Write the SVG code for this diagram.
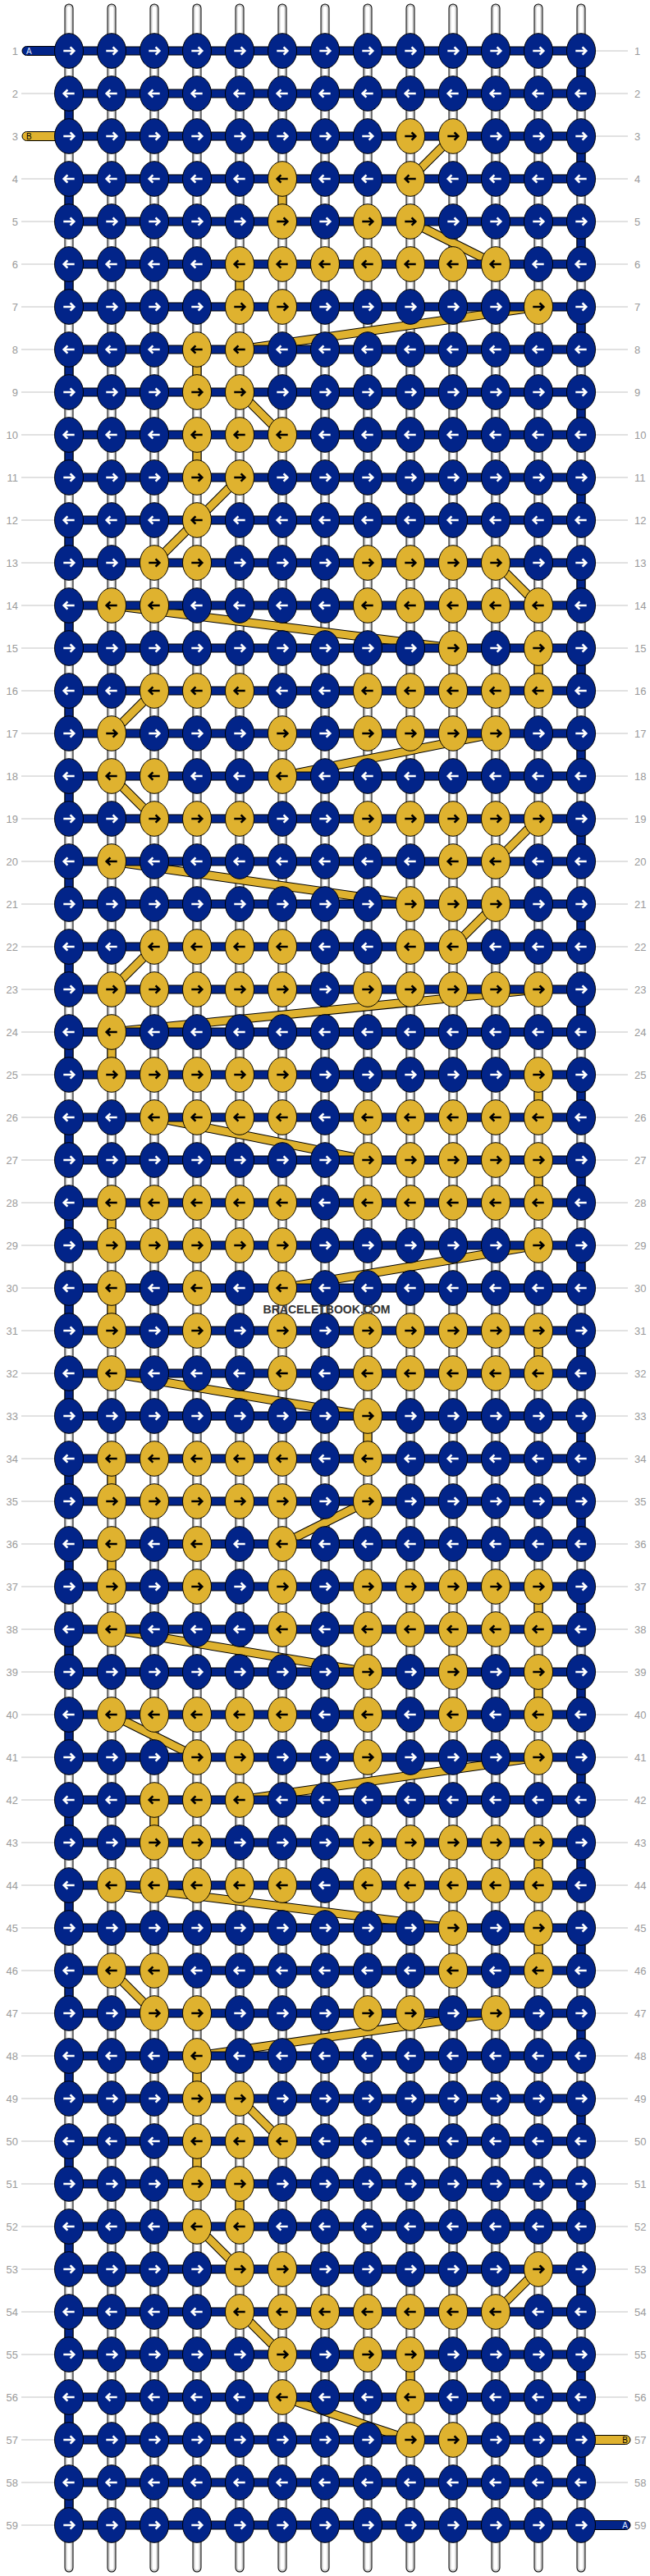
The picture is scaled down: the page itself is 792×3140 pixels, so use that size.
<svg xmlns="http://www.w3.org/2000/svg" width="792" height="3140" viewBox="0 0 792 3140">
<style>
.kb{fill:#022489;stroke:#000;stroke-width:1}
.ky{fill:#dfb22f;stroke:#000;stroke-width:1}
.aw{fill:none;stroke:#fff;stroke-width:2.6}
.ak{fill:none;stroke:#000;stroke-width:2.6}
.lb{font-family:"Liberation Sans",Arial,sans-serif;font-size:13px;fill:#9a9a9a}
.ln{fill:none;stroke:#c4c4c4;stroke-width:1}
.s1{fill:none;stroke:#000;stroke-width:11;stroke-linecap:round}
.s2{fill:none;stroke:#c8c8c8;stroke-width:9;stroke-linecap:round}
.s3{fill:none;stroke:#fff;stroke-width:5;stroke-linecap:round}
.o{fill:none;stroke:#000;stroke-width:11}
.bl{fill:none;stroke:#022489;stroke-width:9}
.yl{fill:none;stroke:#dfb22f;stroke-width:9}
.pl{font-family:"Liberation Sans",Arial,sans-serif;font-size:10px}
</style>
<defs>
<g id="a"><ellipse rx="17.5" ry="21.3" class="kb"/><path d="M-6.7 0H5.8M1.6-4.7L6.3 0L1.6 4.7" class="aw"/></g>
<g id="b"><ellipse rx="17.5" ry="21.3" class="kb"/><path d="M6.7 0H-5.8M-1.6-4.7L-6.3 0L-1.6 4.7" class="aw"/></g>
<g id="c"><ellipse rx="17.5" ry="21.3" class="ky"/><path d="M-6.7 0H5.8M1.6-4.7L6.3 0L1.6 4.7" class="ak"/></g>
<g id="d"><ellipse rx="17.5" ry="21.3" class="ky"/><path d="M6.7 0H-5.8M-1.6-4.7L-6.3 0L-1.6 4.7" class="ak"/></g>
</defs>
<rect width="792" height="3140" fill="#fff"/>
<g id="strings">
<path class="s1" d="M84 10V3130M136 10V3130M188 10V3130M240 10V3130M292 10V3130M344 10V3130M396 10V3130M448 10V3130M500 10V3130M552 10V3130M604 10V3130M656 10V3130M708 10V3130"/>
<path class="s2" d="M84 10V3130M136 10V3130M188 10V3130M240 10V3130M292 10V3130M344 10V3130M396 10V3130M448 10V3130M500 10V3130M552 10V3130M604 10V3130M656 10V3130M708 10V3130"/>
<path class="s3" d="M84 10V3130M136 10V3130M188 10V3130M240 10V3130M292 10V3130M344 10V3130M396 10V3130M448 10V3130M500 10V3130M552 10V3130M604 10V3130M656 10V3130M708 10V3130"/>
</g>
<g id="connectors">
<path id="yellowPath" class="o" d="M552 166L500 218M344 218V270M500 270L604 322M292 322V374M656 374L292 426M240 426V478M292 478L344 530M240 530V582M292 582L240 634M240 634L188 686M604 686L656 738M136 738L552 790M656 790V842M188 842L136 894M604 894L344 946M136 946L188 998M656 998L604 1050M136 1050L500 1102M604 1102L552 1154M188 1154L136 1206M656 1206L136 1258M136 1258V1310M656 1310V1362M188 1362L448 1414M656 1414V1466M136 1466V1518M656 1518L344 1570M136 1570V1622M656 1622V1674M136 1674L448 1726M448 1726V1778M136 1778V1830M448 1830L344 1882M136 1882V1934M656 1934V1986M136 1986L448 2038M656 2038V2090M136 2090L240 2142M656 2142L292 2194M188 2194V2246M656 2246V2298M136 2298L552 2350M656 2350V2402M136 2402L188 2454M604 2454L240 2506M240 2506V2558M292 2558L344 2610M240 2610V2662M292 2662V2714M240 2714L292 2766M656 2766L604 2818M292 2818L344 2870M500 2870V2922M344 2922L500 2974"/>
<path class="yl" d="M552 166L500 218M344 218V270M500 270L604 322M292 322V374M656 374L292 426M240 426V478M292 478L344 530M240 530V582M292 582L240 634M240 634L188 686M604 686L656 738M136 738L552 790M656 790V842M188 842L136 894M604 894L344 946M136 946L188 998M656 998L604 1050M136 1050L500 1102M604 1102L552 1154M188 1154L136 1206M656 1206L136 1258M136 1258V1310M656 1310V1362M188 1362L448 1414M656 1414V1466M136 1466V1518M656 1518L344 1570M136 1570V1622M656 1622V1674M136 1674L448 1726M448 1726V1778M136 1778V1830M448 1830L344 1882M136 1882V1934M656 1934V1986M136 1986L448 2038M656 2038V2090M136 2090L240 2142M656 2142L292 2194M188 2194V2246M656 2246V2298M136 2298L552 2350M656 2350V2402M136 2402L188 2454M604 2454L240 2506M240 2506V2558M292 2558L344 2610M240 2610V2662M292 2662V2714M240 2714L292 2766M656 2766L604 2818M292 2818L344 2870M500 2870V2922M344 2922L500 2974"/>
<path class="o" stroke-dasharray="52 52" d="M84 114V3078"/>
<path class="bl" stroke-dasharray="52 52" d="M84 114V3078"/>
<path class="o" stroke-dasharray="52 52" d="M708 62V3026"/>
<path class="bl" stroke-dasharray="52 52" d="M708 62V3026"/>
<path class="o" d="M84 62H708M84 114H708M84 166H708M84 218H708M84 270H708M84 322H708M84 374H708M84 426H708M84 478H708M84 530H708M84 582H708M84 634H708M84 686H708M84 738H708M84 790H708M84 842H708M84 894H708M84 946H708M84 998H708M84 1050H708M84 1102H708M84 1154H708M84 1206H708M84 1258H708M84 1310H708M84 1362H708M84 1414H708M84 1466H708M84 1518H708M84 1570H708M84 1622H708M84 1674H708M84 1726H708M84 1778H708M84 1830H708M84 1882H708M84 1934H708M84 1986H708M84 2038H708M84 2090H708M84 2142H708M84 2194H708M84 2246H708M84 2298H708M84 2350H708M84 2402H708M84 2454H708M84 2506H708M84 2558H708M84 2610H708M84 2662H708M84 2714H708M84 2766H708M84 2818H708M84 2870H708M84 2922H708M84 2974H708M84 3026H708M84 3078H708"/>
<path class="bl" d="M84 62H708M84 114H708M84 166H708M84 218H708M84 270H708M84 322H708M84 374H708M84 426H708M84 478H708M84 530H708M84 582H708M84 634H708M84 686H708M84 738H708M84 790H708M84 842H708M84 894H708M84 946H708M84 998H708M84 1050H708M84 1102H708M84 1154H708M84 1206H708M84 1258H708M84 1310H708M84 1362H708M84 1414H708M84 1466H708M84 1518H708M84 1570H708M84 1622H708M84 1674H708M84 1726H708M84 1778H708M84 1830H708M84 1882H708M84 1934H708M84 1986H708M84 2038H708M84 2090H708M84 2142H708M84 2194H708M84 2246H708M84 2298H708M84 2350H708M84 2402H708M84 2454H708M84 2506H708M84 2558H708M84 2610H708M84 2662H708M84 2714H708M84 2766H708M84 2818H708M84 2870H708M84 2922H708M84 2974H708M84 3026H708M84 3078H708"/>
</g>
<g id="ends">
<rect x="27" y="56.5" width="53" height="11" rx="5.5" class="kb"/>
<text x="32" y="66" class="pl" fill="#dfe6ff">A</text>
<rect x="27" y="160.5" width="53" height="11" rx="5.5" class="ky"/>
<text x="32" y="170" class="pl" fill="#000">B</text>
<rect x="712" y="2968.5" width="56" height="11" rx="5.5" class="ky"/>
<text x="765" y="2978" class="pl" fill="#000" text-anchor="end">B</text>
<rect x="712" y="3072.5" width="56" height="11" rx="5.5" class="kb"/>
<text x="765" y="3082" class="pl" fill="#dfe6ff" text-anchor="end">A</text>
</g>
<g id="knots">
<g transform="translate(0,62)"><g id="k1-0"><use href="#a" x="84"/></g><g id="k1-1"><use href="#a" x="136"/></g><g id="k1-2"><use href="#a" x="188"/></g><g id="k1-3"><use href="#a" x="240"/></g><g id="k1-4"><use href="#a" x="292"/></g><g id="k1-5"><use href="#a" x="344"/></g><g id="k1-6"><use href="#a" x="396"/></g><g id="k1-7"><use href="#a" x="448"/></g><g id="k1-8"><use href="#a" x="500"/></g><g id="k1-9"><use href="#a" x="552"/></g><g id="k1-10"><use href="#a" x="604"/></g><g id="k1-11"><use href="#a" x="656"/></g><g id="k1-12"><use href="#a" x="708"/></g></g>
<g transform="translate(0,114)"><g id="k2-0"><use href="#b" x="84"/></g><g id="k2-1"><use href="#b" x="136"/></g><g id="k2-2"><use href="#b" x="188"/></g><g id="k2-3"><use href="#b" x="240"/></g><g id="k2-4"><use href="#b" x="292"/></g><g id="k2-5"><use href="#b" x="344"/></g><g id="k2-6"><use href="#b" x="396"/></g><g id="k2-7"><use href="#b" x="448"/></g><g id="k2-8"><use href="#b" x="500"/></g><g id="k2-9"><use href="#b" x="552"/></g><g id="k2-10"><use href="#b" x="604"/></g><g id="k2-11"><use href="#b" x="656"/></g><g id="k2-12"><use href="#b" x="708"/></g></g>
<g transform="translate(0,166)"><g id="k3-0"><use href="#a" x="84"/></g><g id="k3-1"><use href="#a" x="136"/></g><g id="k3-2"><use href="#a" x="188"/></g><g id="k3-3"><use href="#a" x="240"/></g><g id="k3-4"><use href="#a" x="292"/></g><g id="k3-5"><use href="#a" x="344"/></g><g id="k3-6"><use href="#a" x="396"/></g><g id="k3-7"><use href="#a" x="448"/></g><g id="k3-8"><use href="#c" x="500"/></g><g id="k3-9"><use href="#c" x="552"/></g><g id="k3-10"><use href="#a" x="604"/></g><g id="k3-11"><use href="#a" x="656"/></g><g id="k3-12"><use href="#a" x="708"/></g></g>
<g transform="translate(0,218)"><g id="k4-0"><use href="#b" x="84"/></g><g id="k4-1"><use href="#b" x="136"/></g><g id="k4-2"><use href="#b" x="188"/></g><g id="k4-3"><use href="#b" x="240"/></g><g id="k4-4"><use href="#b" x="292"/></g><g id="k4-5"><use href="#d" x="344"/></g><g id="k4-6"><use href="#b" x="396"/></g><g id="k4-7"><use href="#b" x="448"/></g><g id="k4-8"><use href="#d" x="500"/></g><g id="k4-9"><use href="#b" x="552"/></g><g id="k4-10"><use href="#b" x="604"/></g><g id="k4-11"><use href="#b" x="656"/></g><g id="k4-12"><use href="#b" x="708"/></g></g>
<g transform="translate(0,270)"><g id="k5-0"><use href="#a" x="84"/></g><g id="k5-1"><use href="#a" x="136"/></g><g id="k5-2"><use href="#a" x="188"/></g><g id="k5-3"><use href="#a" x="240"/></g><g id="k5-4"><use href="#a" x="292"/></g><g id="k5-5"><use href="#c" x="344"/></g><g id="k5-6"><use href="#a" x="396"/></g><g id="k5-7"><use href="#c" x="448"/></g><g id="k5-8"><use href="#c" x="500"/></g><g id="k5-9"><use href="#a" x="552"/></g><g id="k5-10"><use href="#a" x="604"/></g><g id="k5-11"><use href="#a" x="656"/></g><g id="k5-12"><use href="#a" x="708"/></g></g>
<g transform="translate(0,322)"><g id="k6-0"><use href="#b" x="84"/></g><g id="k6-1"><use href="#b" x="136"/></g><g id="k6-2"><use href="#b" x="188"/></g><g id="k6-3"><use href="#b" x="240"/></g><g id="k6-4"><use href="#d" x="292"/></g><g id="k6-5"><use href="#d" x="344"/></g><g id="k6-6"><use href="#d" x="396"/></g><g id="k6-7"><use href="#d" x="448"/></g><g id="k6-8"><use href="#d" x="500"/></g><g id="k6-9"><use href="#d" x="552"/></g><g id="k6-10"><use href="#d" x="604"/></g><g id="k6-11"><use href="#b" x="656"/></g><g id="k6-12"><use href="#b" x="708"/></g></g>
<g transform="translate(0,374)"><g id="k7-0"><use href="#a" x="84"/></g><g id="k7-1"><use href="#a" x="136"/></g><g id="k7-2"><use href="#a" x="188"/></g><g id="k7-3"><use href="#a" x="240"/></g><g id="k7-4"><use href="#c" x="292"/></g><g id="k7-5"><use href="#c" x="344"/></g><g id="k7-6"><use href="#a" x="396"/></g><g id="k7-7"><use href="#a" x="448"/></g><g id="k7-8"><use href="#a" x="500"/></g><g id="k7-9"><use href="#a" x="552"/></g><g id="k7-10"><use href="#a" x="604"/></g><g id="k7-11"><use href="#c" x="656"/></g><g id="k7-12"><use href="#a" x="708"/></g></g>
<g transform="translate(0,426)"><g id="k8-0"><use href="#b" x="84"/></g><g id="k8-1"><use href="#b" x="136"/></g><g id="k8-2"><use href="#b" x="188"/></g><g id="k8-3"><use href="#d" x="240"/></g><g id="k8-4"><use href="#d" x="292"/></g><g id="k8-5"><use href="#b" x="344"/></g><g id="k8-6"><use href="#b" x="396"/></g><g id="k8-7"><use href="#b" x="448"/></g><g id="k8-8"><use href="#b" x="500"/></g><g id="k8-9"><use href="#b" x="552"/></g><g id="k8-10"><use href="#b" x="604"/></g><g id="k8-11"><use href="#b" x="656"/></g><g id="k8-12"><use href="#b" x="708"/></g></g>
<g transform="translate(0,478)"><g id="k9-0"><use href="#a" x="84"/></g><g id="k9-1"><use href="#a" x="136"/></g><g id="k9-2"><use href="#a" x="188"/></g><g id="k9-3"><use href="#c" x="240"/></g><g id="k9-4"><use href="#c" x="292"/></g><g id="k9-5"><use href="#a" x="344"/></g><g id="k9-6"><use href="#a" x="396"/></g><g id="k9-7"><use href="#a" x="448"/></g><g id="k9-8"><use href="#a" x="500"/></g><g id="k9-9"><use href="#a" x="552"/></g><g id="k9-10"><use href="#a" x="604"/></g><g id="k9-11"><use href="#a" x="656"/></g><g id="k9-12"><use href="#a" x="708"/></g></g>
<g transform="translate(0,530)"><g id="k10-0"><use href="#b" x="84"/></g><g id="k10-1"><use href="#b" x="136"/></g><g id="k10-2"><use href="#b" x="188"/></g><g id="k10-3"><use href="#d" x="240"/></g><g id="k10-4"><use href="#d" x="292"/></g><g id="k10-5"><use href="#d" x="344"/></g><g id="k10-6"><use href="#b" x="396"/></g><g id="k10-7"><use href="#b" x="448"/></g><g id="k10-8"><use href="#b" x="500"/></g><g id="k10-9"><use href="#b" x="552"/></g><g id="k10-10"><use href="#b" x="604"/></g><g id="k10-11"><use href="#b" x="656"/></g><g id="k10-12"><use href="#b" x="708"/></g></g>
<g transform="translate(0,582)"><g id="k11-0"><use href="#a" x="84"/></g><g id="k11-1"><use href="#a" x="136"/></g><g id="k11-2"><use href="#a" x="188"/></g><g id="k11-3"><use href="#c" x="240"/></g><g id="k11-4"><use href="#c" x="292"/></g><g id="k11-5"><use href="#a" x="344"/></g><g id="k11-6"><use href="#a" x="396"/></g><g id="k11-7"><use href="#a" x="448"/></g><g id="k11-8"><use href="#a" x="500"/></g><g id="k11-9"><use href="#a" x="552"/></g><g id="k11-10"><use href="#a" x="604"/></g><g id="k11-11"><use href="#a" x="656"/></g><g id="k11-12"><use href="#a" x="708"/></g></g>
<g transform="translate(0,634)"><g id="k12-0"><use href="#b" x="84"/></g><g id="k12-1"><use href="#b" x="136"/></g><g id="k12-2"><use href="#b" x="188"/></g><g id="k12-3"><use href="#d" x="240"/></g><g id="k12-4"><use href="#b" x="292"/></g><g id="k12-5"><use href="#b" x="344"/></g><g id="k12-6"><use href="#b" x="396"/></g><g id="k12-7"><use href="#b" x="448"/></g><g id="k12-8"><use href="#b" x="500"/></g><g id="k12-9"><use href="#b" x="552"/></g><g id="k12-10"><use href="#b" x="604"/></g><g id="k12-11"><use href="#b" x="656"/></g><g id="k12-12"><use href="#b" x="708"/></g></g>
<g transform="translate(0,686)"><g id="k13-0"><use href="#a" x="84"/></g><g id="k13-1"><use href="#a" x="136"/></g><g id="k13-2"><use href="#c" x="188"/></g><g id="k13-3"><use href="#c" x="240"/></g><g id="k13-4"><use href="#a" x="292"/></g><g id="k13-5"><use href="#a" x="344"/></g><g id="k13-6"><use href="#a" x="396"/></g><g id="k13-7"><use href="#c" x="448"/></g><g id="k13-8"><use href="#c" x="500"/></g><g id="k13-9"><use href="#c" x="552"/></g><g id="k13-10"><use href="#c" x="604"/></g><g id="k13-11"><use href="#a" x="656"/></g><g id="k13-12"><use href="#a" x="708"/></g></g>
<g transform="translate(0,738)"><g id="k14-0"><use href="#b" x="84"/></g><g id="k14-1"><use href="#d" x="136"/></g><g id="k14-2"><use href="#d" x="188"/></g><g id="k14-3"><use href="#b" x="240"/></g><g id="k14-4"><use href="#b" x="292"/></g><g id="k14-5"><use href="#b" x="344"/></g><g id="k14-6"><use href="#b" x="396"/></g><g id="k14-7"><use href="#d" x="448"/></g><g id="k14-8"><use href="#d" x="500"/></g><g id="k14-9"><use href="#d" x="552"/></g><g id="k14-10"><use href="#d" x="604"/></g><g id="k14-11"><use href="#d" x="656"/></g><g id="k14-12"><use href="#b" x="708"/></g></g>
<g transform="translate(0,790)"><g id="k15-0"><use href="#a" x="84"/></g><g id="k15-1"><use href="#a" x="136"/></g><g id="k15-2"><use href="#a" x="188"/></g><g id="k15-3"><use href="#a" x="240"/></g><g id="k15-4"><use href="#a" x="292"/></g><g id="k15-5"><use href="#a" x="344"/></g><g id="k15-6"><use href="#a" x="396"/></g><g id="k15-7"><use href="#a" x="448"/></g><g id="k15-8"><use href="#a" x="500"/></g><g id="k15-9"><use href="#c" x="552"/></g><g id="k15-10"><use href="#a" x="604"/></g><g id="k15-11"><use href="#c" x="656"/></g><g id="k15-12"><use href="#a" x="708"/></g></g>
<g transform="translate(0,842)"><g id="k16-0"><use href="#b" x="84"/></g><g id="k16-1"><use href="#b" x="136"/></g><g id="k16-2"><use href="#d" x="188"/></g><g id="k16-3"><use href="#d" x="240"/></g><g id="k16-4"><use href="#d" x="292"/></g><g id="k16-5"><use href="#b" x="344"/></g><g id="k16-6"><use href="#b" x="396"/></g><g id="k16-7"><use href="#d" x="448"/></g><g id="k16-8"><use href="#d" x="500"/></g><g id="k16-9"><use href="#d" x="552"/></g><g id="k16-10"><use href="#d" x="604"/></g><g id="k16-11"><use href="#d" x="656"/></g><g id="k16-12"><use href="#b" x="708"/></g></g>
<g transform="translate(0,894)"><g id="k17-0"><use href="#a" x="84"/></g><g id="k17-1"><use href="#c" x="136"/></g><g id="k17-2"><use href="#a" x="188"/></g><g id="k17-3"><use href="#a" x="240"/></g><g id="k17-4"><use href="#a" x="292"/></g><g id="k17-5"><use href="#c" x="344"/></g><g id="k17-6"><use href="#a" x="396"/></g><g id="k17-7"><use href="#c" x="448"/></g><g id="k17-8"><use href="#c" x="500"/></g><g id="k17-9"><use href="#c" x="552"/></g><g id="k17-10"><use href="#c" x="604"/></g><g id="k17-11"><use href="#a" x="656"/></g><g id="k17-12"><use href="#a" x="708"/></g></g>
<g transform="translate(0,946)"><g id="k18-0"><use href="#b" x="84"/></g><g id="k18-1"><use href="#d" x="136"/></g><g id="k18-2"><use href="#d" x="188"/></g><g id="k18-3"><use href="#b" x="240"/></g><g id="k18-4"><use href="#b" x="292"/></g><g id="k18-5"><use href="#d" x="344"/></g><g id="k18-6"><use href="#b" x="396"/></g><g id="k18-7"><use href="#b" x="448"/></g><g id="k18-8"><use href="#b" x="500"/></g><g id="k18-9"><use href="#b" x="552"/></g><g id="k18-10"><use href="#b" x="604"/></g><g id="k18-11"><use href="#b" x="656"/></g><g id="k18-12"><use href="#b" x="708"/></g></g>
<g transform="translate(0,998)"><g id="k19-0"><use href="#a" x="84"/></g><g id="k19-1"><use href="#a" x="136"/></g><g id="k19-2"><use href="#c" x="188"/></g><g id="k19-3"><use href="#c" x="240"/></g><g id="k19-4"><use href="#c" x="292"/></g><g id="k19-5"><use href="#a" x="344"/></g><g id="k19-6"><use href="#a" x="396"/></g><g id="k19-7"><use href="#c" x="448"/></g><g id="k19-8"><use href="#c" x="500"/></g><g id="k19-9"><use href="#c" x="552"/></g><g id="k19-10"><use href="#c" x="604"/></g><g id="k19-11"><use href="#c" x="656"/></g><g id="k19-12"><use href="#a" x="708"/></g></g>
<g transform="translate(0,1050)"><g id="k20-0"><use href="#b" x="84"/></g><g id="k20-1"><use href="#d" x="136"/></g><g id="k20-2"><use href="#b" x="188"/></g><g id="k20-3"><use href="#b" x="240"/></g><g id="k20-4"><use href="#b" x="292"/></g><g id="k20-5"><use href="#b" x="344"/></g><g id="k20-6"><use href="#b" x="396"/></g><g id="k20-7"><use href="#b" x="448"/></g><g id="k20-8"><use href="#b" x="500"/></g><g id="k20-9"><use href="#d" x="552"/></g><g id="k20-10"><use href="#d" x="604"/></g><g id="k20-11"><use href="#b" x="656"/></g><g id="k20-12"><use href="#b" x="708"/></g></g>
<g transform="translate(0,1102)"><g id="k21-0"><use href="#a" x="84"/></g><g id="k21-1"><use href="#a" x="136"/></g><g id="k21-2"><use href="#a" x="188"/></g><g id="k21-3"><use href="#a" x="240"/></g><g id="k21-4"><use href="#a" x="292"/></g><g id="k21-5"><use href="#a" x="344"/></g><g id="k21-6"><use href="#a" x="396"/></g><g id="k21-7"><use href="#a" x="448"/></g><g id="k21-8"><use href="#c" x="500"/></g><g id="k21-9"><use href="#c" x="552"/></g><g id="k21-10"><use href="#c" x="604"/></g><g id="k21-11"><use href="#a" x="656"/></g><g id="k21-12"><use href="#a" x="708"/></g></g>
<g transform="translate(0,1154)"><g id="k22-0"><use href="#b" x="84"/></g><g id="k22-1"><use href="#b" x="136"/></g><g id="k22-2"><use href="#d" x="188"/></g><g id="k22-3"><use href="#d" x="240"/></g><g id="k22-4"><use href="#d" x="292"/></g><g id="k22-5"><use href="#d" x="344"/></g><g id="k22-6"><use href="#b" x="396"/></g><g id="k22-7"><use href="#b" x="448"/></g><g id="k22-8"><use href="#d" x="500"/></g><g id="k22-9"><use href="#d" x="552"/></g><g id="k22-10"><use href="#b" x="604"/></g><g id="k22-11"><use href="#b" x="656"/></g><g id="k22-12"><use href="#b" x="708"/></g></g>
<g transform="translate(0,1206)"><g id="k23-0"><use href="#a" x="84"/></g><g id="k23-1"><use href="#c" x="136"/></g><g id="k23-2"><use href="#c" x="188"/></g><g id="k23-3"><use href="#c" x="240"/></g><g id="k23-4"><use href="#c" x="292"/></g><g id="k23-5"><use href="#c" x="344"/></g><g id="k23-6"><use href="#a" x="396"/></g><g id="k23-7"><use href="#c" x="448"/></g><g id="k23-8"><use href="#c" x="500"/></g><g id="k23-9"><use href="#c" x="552"/></g><g id="k23-10"><use href="#c" x="604"/></g><g id="k23-11"><use href="#c" x="656"/></g><g id="k23-12"><use href="#a" x="708"/></g></g>
<g transform="translate(0,1258)"><g id="k24-0"><use href="#b" x="84"/></g><g id="k24-1"><use href="#d" x="136"/></g><g id="k24-2"><use href="#b" x="188"/></g><g id="k24-3"><use href="#b" x="240"/></g><g id="k24-4"><use href="#b" x="292"/></g><g id="k24-5"><use href="#b" x="344"/></g><g id="k24-6"><use href="#b" x="396"/></g><g id="k24-7"><use href="#b" x="448"/></g><g id="k24-8"><use href="#b" x="500"/></g><g id="k24-9"><use href="#b" x="552"/></g><g id="k24-10"><use href="#b" x="604"/></g><g id="k24-11"><use href="#b" x="656"/></g><g id="k24-12"><use href="#b" x="708"/></g></g>
<g transform="translate(0,1310)"><g id="k25-0"><use href="#a" x="84"/></g><g id="k25-1"><use href="#c" x="136"/></g><g id="k25-2"><use href="#c" x="188"/></g><g id="k25-3"><use href="#c" x="240"/></g><g id="k25-4"><use href="#c" x="292"/></g><g id="k25-5"><use href="#c" x="344"/></g><g id="k25-6"><use href="#a" x="396"/></g><g id="k25-7"><use href="#a" x="448"/></g><g id="k25-8"><use href="#a" x="500"/></g><g id="k25-9"><use href="#a" x="552"/></g><g id="k25-10"><use href="#a" x="604"/></g><g id="k25-11"><use href="#c" x="656"/></g><g id="k25-12"><use href="#a" x="708"/></g></g>
<g transform="translate(0,1362)"><g id="k26-0"><use href="#b" x="84"/></g><g id="k26-1"><use href="#b" x="136"/></g><g id="k26-2"><use href="#d" x="188"/></g><g id="k26-3"><use href="#d" x="240"/></g><g id="k26-4"><use href="#d" x="292"/></g><g id="k26-5"><use href="#d" x="344"/></g><g id="k26-6"><use href="#b" x="396"/></g><g id="k26-7"><use href="#d" x="448"/></g><g id="k26-8"><use href="#d" x="500"/></g><g id="k26-9"><use href="#d" x="552"/></g><g id="k26-10"><use href="#d" x="604"/></g><g id="k26-11"><use href="#d" x="656"/></g><g id="k26-12"><use href="#b" x="708"/></g></g>
<g transform="translate(0,1414)"><g id="k27-0"><use href="#a" x="84"/></g><g id="k27-1"><use href="#a" x="136"/></g><g id="k27-2"><use href="#a" x="188"/></g><g id="k27-3"><use href="#a" x="240"/></g><g id="k27-4"><use href="#a" x="292"/></g><g id="k27-5"><use href="#a" x="344"/></g><g id="k27-6"><use href="#a" x="396"/></g><g id="k27-7"><use href="#c" x="448"/></g><g id="k27-8"><use href="#c" x="500"/></g><g id="k27-9"><use href="#c" x="552"/></g><g id="k27-10"><use href="#c" x="604"/></g><g id="k27-11"><use href="#c" x="656"/></g><g id="k27-12"><use href="#a" x="708"/></g></g>
<g transform="translate(0,1466)"><g id="k28-0"><use href="#b" x="84"/></g><g id="k28-1"><use href="#d" x="136"/></g><g id="k28-2"><use href="#d" x="188"/></g><g id="k28-3"><use href="#d" x="240"/></g><g id="k28-4"><use href="#d" x="292"/></g><g id="k28-5"><use href="#d" x="344"/></g><g id="k28-6"><use href="#b" x="396"/></g><g id="k28-7"><use href="#d" x="448"/></g><g id="k28-8"><use href="#d" x="500"/></g><g id="k28-9"><use href="#d" x="552"/></g><g id="k28-10"><use href="#d" x="604"/></g><g id="k28-11"><use href="#d" x="656"/></g><g id="k28-12"><use href="#b" x="708"/></g></g>
<g transform="translate(0,1518)"><g id="k29-0"><use href="#a" x="84"/></g><g id="k29-1"><use href="#c" x="136"/></g><g id="k29-2"><use href="#c" x="188"/></g><g id="k29-3"><use href="#c" x="240"/></g><g id="k29-4"><use href="#c" x="292"/></g><g id="k29-5"><use href="#c" x="344"/></g><g id="k29-6"><use href="#a" x="396"/></g><g id="k29-7"><use href="#a" x="448"/></g><g id="k29-8"><use href="#a" x="500"/></g><g id="k29-9"><use href="#a" x="552"/></g><g id="k29-10"><use href="#a" x="604"/></g><g id="k29-11"><use href="#c" x="656"/></g><g id="k29-12"><use href="#a" x="708"/></g></g>
<g transform="translate(0,1570)"><g id="k30-0"><use href="#b" x="84"/></g><g id="k30-1"><use href="#d" x="136"/></g><g id="k30-2"><use href="#b" x="188"/></g><g id="k30-3"><use href="#d" x="240"/></g><g id="k30-4"><use href="#b" x="292"/></g><g id="k30-5"><use href="#d" x="344"/></g><g id="k30-6"><use href="#b" x="396"/></g><g id="k30-7"><use href="#b" x="448"/></g><g id="k30-8"><use href="#b" x="500"/></g><g id="k30-9"><use href="#b" x="552"/></g><g id="k30-10"><use href="#b" x="604"/></g><g id="k30-11"><use href="#b" x="656"/></g><g id="k30-12"><use href="#b" x="708"/></g></g>
<g transform="translate(0,1622)"><g id="k31-0"><use href="#a" x="84"/></g><g id="k31-1"><use href="#c" x="136"/></g><g id="k31-2"><use href="#a" x="188"/></g><g id="k31-3"><use href="#c" x="240"/></g><g id="k31-4"><use href="#a" x="292"/></g><g id="k31-5"><use href="#c" x="344"/></g><g id="k31-6"><use href="#a" x="396"/></g><g id="k31-7"><use href="#c" x="448"/></g><g id="k31-8"><use href="#c" x="500"/></g><g id="k31-9"><use href="#c" x="552"/></g><g id="k31-10"><use href="#c" x="604"/></g><g id="k31-11"><use href="#c" x="656"/></g><g id="k31-12"><use href="#a" x="708"/></g></g>
<g transform="translate(0,1674)"><g id="k32-0"><use href="#b" x="84"/></g><g id="k32-1"><use href="#d" x="136"/></g><g id="k32-2"><use href="#b" x="188"/></g><g id="k32-3"><use href="#b" x="240"/></g><g id="k32-4"><use href="#b" x="292"/></g><g id="k32-5"><use href="#d" x="344"/></g><g id="k32-6"><use href="#b" x="396"/></g><g id="k32-7"><use href="#d" x="448"/></g><g id="k32-8"><use href="#d" x="500"/></g><g id="k32-9"><use href="#d" x="552"/></g><g id="k32-10"><use href="#d" x="604"/></g><g id="k32-11"><use href="#d" x="656"/></g><g id="k32-12"><use href="#b" x="708"/></g></g>
<g transform="translate(0,1726)"><g id="k33-0"><use href="#a" x="84"/></g><g id="k33-1"><use href="#a" x="136"/></g><g id="k33-2"><use href="#a" x="188"/></g><g id="k33-3"><use href="#a" x="240"/></g><g id="k33-4"><use href="#a" x="292"/></g><g id="k33-5"><use href="#a" x="344"/></g><g id="k33-6"><use href="#a" x="396"/></g><g id="k33-7"><use href="#c" x="448"/></g><g id="k33-8"><use href="#a" x="500"/></g><g id="k33-9"><use href="#a" x="552"/></g><g id="k33-10"><use href="#a" x="604"/></g><g id="k33-11"><use href="#a" x="656"/></g><g id="k33-12"><use href="#a" x="708"/></g></g>
<g transform="translate(0,1778)"><g id="k34-0"><use href="#b" x="84"/></g><g id="k34-1"><use href="#d" x="136"/></g><g id="k34-2"><use href="#d" x="188"/></g><g id="k34-3"><use href="#d" x="240"/></g><g id="k34-4"><use href="#d" x="292"/></g><g id="k34-5"><use href="#d" x="344"/></g><g id="k34-6"><use href="#b" x="396"/></g><g id="k34-7"><use href="#d" x="448"/></g><g id="k34-8"><use href="#b" x="500"/></g><g id="k34-9"><use href="#b" x="552"/></g><g id="k34-10"><use href="#b" x="604"/></g><g id="k34-11"><use href="#b" x="656"/></g><g id="k34-12"><use href="#b" x="708"/></g></g>
<g transform="translate(0,1830)"><g id="k35-0"><use href="#a" x="84"/></g><g id="k35-1"><use href="#c" x="136"/></g><g id="k35-2"><use href="#c" x="188"/></g><g id="k35-3"><use href="#c" x="240"/></g><g id="k35-4"><use href="#c" x="292"/></g><g id="k35-5"><use href="#c" x="344"/></g><g id="k35-6"><use href="#a" x="396"/></g><g id="k35-7"><use href="#c" x="448"/></g><g id="k35-8"><use href="#a" x="500"/></g><g id="k35-9"><use href="#a" x="552"/></g><g id="k35-10"><use href="#a" x="604"/></g><g id="k35-11"><use href="#a" x="656"/></g><g id="k35-12"><use href="#a" x="708"/></g></g>
<g transform="translate(0,1882)"><g id="k36-0"><use href="#b" x="84"/></g><g id="k36-1"><use href="#d" x="136"/></g><g id="k36-2"><use href="#b" x="188"/></g><g id="k36-3"><use href="#d" x="240"/></g><g id="k36-4"><use href="#b" x="292"/></g><g id="k36-5"><use href="#d" x="344"/></g><g id="k36-6"><use href="#b" x="396"/></g><g id="k36-7"><use href="#b" x="448"/></g><g id="k36-8"><use href="#b" x="500"/></g><g id="k36-9"><use href="#b" x="552"/></g><g id="k36-10"><use href="#b" x="604"/></g><g id="k36-11"><use href="#b" x="656"/></g><g id="k36-12"><use href="#b" x="708"/></g></g>
<g transform="translate(0,1934)"><g id="k37-0"><use href="#a" x="84"/></g><g id="k37-1"><use href="#c" x="136"/></g><g id="k37-2"><use href="#a" x="188"/></g><g id="k37-3"><use href="#c" x="240"/></g><g id="k37-4"><use href="#a" x="292"/></g><g id="k37-5"><use href="#c" x="344"/></g><g id="k37-6"><use href="#a" x="396"/></g><g id="k37-7"><use href="#c" x="448"/></g><g id="k37-8"><use href="#c" x="500"/></g><g id="k37-9"><use href="#c" x="552"/></g><g id="k37-10"><use href="#c" x="604"/></g><g id="k37-11"><use href="#c" x="656"/></g><g id="k37-12"><use href="#a" x="708"/></g></g>
<g transform="translate(0,1986)"><g id="k38-0"><use href="#b" x="84"/></g><g id="k38-1"><use href="#d" x="136"/></g><g id="k38-2"><use href="#b" x="188"/></g><g id="k38-3"><use href="#b" x="240"/></g><g id="k38-4"><use href="#b" x="292"/></g><g id="k38-5"><use href="#d" x="344"/></g><g id="k38-6"><use href="#b" x="396"/></g><g id="k38-7"><use href="#d" x="448"/></g><g id="k38-8"><use href="#d" x="500"/></g><g id="k38-9"><use href="#d" x="552"/></g><g id="k38-10"><use href="#d" x="604"/></g><g id="k38-11"><use href="#d" x="656"/></g><g id="k38-12"><use href="#b" x="708"/></g></g>
<g transform="translate(0,2038)"><g id="k39-0"><use href="#a" x="84"/></g><g id="k39-1"><use href="#a" x="136"/></g><g id="k39-2"><use href="#a" x="188"/></g><g id="k39-3"><use href="#a" x="240"/></g><g id="k39-4"><use href="#a" x="292"/></g><g id="k39-5"><use href="#a" x="344"/></g><g id="k39-6"><use href="#a" x="396"/></g><g id="k39-7"><use href="#c" x="448"/></g><g id="k39-8"><use href="#a" x="500"/></g><g id="k39-9"><use href="#c" x="552"/></g><g id="k39-10"><use href="#a" x="604"/></g><g id="k39-11"><use href="#c" x="656"/></g><g id="k39-12"><use href="#a" x="708"/></g></g>
<g transform="translate(0,2090)"><g id="k40-0"><use href="#b" x="84"/></g><g id="k40-1"><use href="#d" x="136"/></g><g id="k40-2"><use href="#d" x="188"/></g><g id="k40-3"><use href="#d" x="240"/></g><g id="k40-4"><use href="#d" x="292"/></g><g id="k40-5"><use href="#d" x="344"/></g><g id="k40-6"><use href="#b" x="396"/></g><g id="k40-7"><use href="#d" x="448"/></g><g id="k40-8"><use href="#b" x="500"/></g><g id="k40-9"><use href="#d" x="552"/></g><g id="k40-10"><use href="#b" x="604"/></g><g id="k40-11"><use href="#d" x="656"/></g><g id="k40-12"><use href="#b" x="708"/></g></g>
<g transform="translate(0,2142)"><g id="k41-0"><use href="#a" x="84"/></g><g id="k41-1"><use href="#a" x="136"/></g><g id="k41-2"><use href="#a" x="188"/></g><g id="k41-3"><use href="#c" x="240"/></g><g id="k41-4"><use href="#c" x="292"/></g><g id="k41-5"><use href="#a" x="344"/></g><g id="k41-6"><use href="#a" x="396"/></g><g id="k41-7"><use href="#c" x="448"/></g><g id="k41-8"><use href="#a" x="500"/></g><g id="k41-9"><use href="#a" x="552"/></g><g id="k41-10"><use href="#a" x="604"/></g><g id="k41-11"><use href="#c" x="656"/></g><g id="k41-12"><use href="#a" x="708"/></g></g>
<g transform="translate(0,2194)"><g id="k42-0"><use href="#b" x="84"/></g><g id="k42-1"><use href="#b" x="136"/></g><g id="k42-2"><use href="#d" x="188"/></g><g id="k42-3"><use href="#d" x="240"/></g><g id="k42-4"><use href="#d" x="292"/></g><g id="k42-5"><use href="#b" x="344"/></g><g id="k42-6"><use href="#b" x="396"/></g><g id="k42-7"><use href="#b" x="448"/></g><g id="k42-8"><use href="#b" x="500"/></g><g id="k42-9"><use href="#b" x="552"/></g><g id="k42-10"><use href="#b" x="604"/></g><g id="k42-11"><use href="#b" x="656"/></g><g id="k42-12"><use href="#b" x="708"/></g></g>
<g transform="translate(0,2246)"><g id="k43-0"><use href="#a" x="84"/></g><g id="k43-1"><use href="#a" x="136"/></g><g id="k43-2"><use href="#c" x="188"/></g><g id="k43-3"><use href="#c" x="240"/></g><g id="k43-4"><use href="#a" x="292"/></g><g id="k43-5"><use href="#a" x="344"/></g><g id="k43-6"><use href="#a" x="396"/></g><g id="k43-7"><use href="#c" x="448"/></g><g id="k43-8"><use href="#c" x="500"/></g><g id="k43-9"><use href="#c" x="552"/></g><g id="k43-10"><use href="#c" x="604"/></g><g id="k43-11"><use href="#c" x="656"/></g><g id="k43-12"><use href="#a" x="708"/></g></g>
<g transform="translate(0,2298)"><g id="k44-0"><use href="#b" x="84"/></g><g id="k44-1"><use href="#d" x="136"/></g><g id="k44-2"><use href="#d" x="188"/></g><g id="k44-3"><use href="#d" x="240"/></g><g id="k44-4"><use href="#d" x="292"/></g><g id="k44-5"><use href="#d" x="344"/></g><g id="k44-6"><use href="#b" x="396"/></g><g id="k44-7"><use href="#d" x="448"/></g><g id="k44-8"><use href="#d" x="500"/></g><g id="k44-9"><use href="#d" x="552"/></g><g id="k44-10"><use href="#d" x="604"/></g><g id="k44-11"><use href="#d" x="656"/></g><g id="k44-12"><use href="#b" x="708"/></g></g>
<g transform="translate(0,2350)"><g id="k45-0"><use href="#a" x="84"/></g><g id="k45-1"><use href="#a" x="136"/></g><g id="k45-2"><use href="#a" x="188"/></g><g id="k45-3"><use href="#a" x="240"/></g><g id="k45-4"><use href="#a" x="292"/></g><g id="k45-5"><use href="#a" x="344"/></g><g id="k45-6"><use href="#a" x="396"/></g><g id="k45-7"><use href="#a" x="448"/></g><g id="k45-8"><use href="#a" x="500"/></g><g id="k45-9"><use href="#c" x="552"/></g><g id="k45-10"><use href="#a" x="604"/></g><g id="k45-11"><use href="#c" x="656"/></g><g id="k45-12"><use href="#a" x="708"/></g></g>
<g transform="translate(0,2402)"><g id="k46-0"><use href="#b" x="84"/></g><g id="k46-1"><use href="#d" x="136"/></g><g id="k46-2"><use href="#d" x="188"/></g><g id="k46-3"><use href="#b" x="240"/></g><g id="k46-4"><use href="#b" x="292"/></g><g id="k46-5"><use href="#b" x="344"/></g><g id="k46-6"><use href="#b" x="396"/></g><g id="k46-7"><use href="#b" x="448"/></g><g id="k46-8"><use href="#b" x="500"/></g><g id="k46-9"><use href="#d" x="552"/></g><g id="k46-10"><use href="#b" x="604"/></g><g id="k46-11"><use href="#d" x="656"/></g><g id="k46-12"><use href="#b" x="708"/></g></g>
<g transform="translate(0,2454)"><g id="k47-0"><use href="#a" x="84"/></g><g id="k47-1"><use href="#a" x="136"/></g><g id="k47-2"><use href="#c" x="188"/></g><g id="k47-3"><use href="#c" x="240"/></g><g id="k47-4"><use href="#a" x="292"/></g><g id="k47-5"><use href="#a" x="344"/></g><g id="k47-6"><use href="#a" x="396"/></g><g id="k47-7"><use href="#c" x="448"/></g><g id="k47-8"><use href="#c" x="500"/></g><g id="k47-9"><use href="#a" x="552"/></g><g id="k47-10"><use href="#c" x="604"/></g><g id="k47-11"><use href="#a" x="656"/></g><g id="k47-12"><use href="#a" x="708"/></g></g>
<g transform="translate(0,2506)"><g id="k48-0"><use href="#b" x="84"/></g><g id="k48-1"><use href="#b" x="136"/></g><g id="k48-2"><use href="#b" x="188"/></g><g id="k48-3"><use href="#d" x="240"/></g><g id="k48-4"><use href="#b" x="292"/></g><g id="k48-5"><use href="#b" x="344"/></g><g id="k48-6"><use href="#b" x="396"/></g><g id="k48-7"><use href="#b" x="448"/></g><g id="k48-8"><use href="#b" x="500"/></g><g id="k48-9"><use href="#b" x="552"/></g><g id="k48-10"><use href="#b" x="604"/></g><g id="k48-11"><use href="#b" x="656"/></g><g id="k48-12"><use href="#b" x="708"/></g></g>
<g transform="translate(0,2558)"><g id="k49-0"><use href="#a" x="84"/></g><g id="k49-1"><use href="#a" x="136"/></g><g id="k49-2"><use href="#a" x="188"/></g><g id="k49-3"><use href="#c" x="240"/></g><g id="k49-4"><use href="#c" x="292"/></g><g id="k49-5"><use href="#a" x="344"/></g><g id="k49-6"><use href="#a" x="396"/></g><g id="k49-7"><use href="#a" x="448"/></g><g id="k49-8"><use href="#a" x="500"/></g><g id="k49-9"><use href="#a" x="552"/></g><g id="k49-10"><use href="#a" x="604"/></g><g id="k49-11"><use href="#a" x="656"/></g><g id="k49-12"><use href="#a" x="708"/></g></g>
<g transform="translate(0,2610)"><g id="k50-0"><use href="#b" x="84"/></g><g id="k50-1"><use href="#b" x="136"/></g><g id="k50-2"><use href="#b" x="188"/></g><g id="k50-3"><use href="#d" x="240"/></g><g id="k50-4"><use href="#d" x="292"/></g><g id="k50-5"><use href="#d" x="344"/></g><g id="k50-6"><use href="#b" x="396"/></g><g id="k50-7"><use href="#b" x="448"/></g><g id="k50-8"><use href="#b" x="500"/></g><g id="k50-9"><use href="#b" x="552"/></g><g id="k50-10"><use href="#b" x="604"/></g><g id="k50-11"><use href="#b" x="656"/></g><g id="k50-12"><use href="#b" x="708"/></g></g>
<g transform="translate(0,2662)"><g id="k51-0"><use href="#a" x="84"/></g><g id="k51-1"><use href="#a" x="136"/></g><g id="k51-2"><use href="#a" x="188"/></g><g id="k51-3"><use href="#c" x="240"/></g><g id="k51-4"><use href="#c" x="292"/></g><g id="k51-5"><use href="#a" x="344"/></g><g id="k51-6"><use href="#a" x="396"/></g><g id="k51-7"><use href="#a" x="448"/></g><g id="k51-8"><use href="#a" x="500"/></g><g id="k51-9"><use href="#a" x="552"/></g><g id="k51-10"><use href="#a" x="604"/></g><g id="k51-11"><use href="#a" x="656"/></g><g id="k51-12"><use href="#a" x="708"/></g></g>
<g transform="translate(0,2714)"><g id="k52-0"><use href="#b" x="84"/></g><g id="k52-1"><use href="#b" x="136"/></g><g id="k52-2"><use href="#b" x="188"/></g><g id="k52-3"><use href="#d" x="240"/></g><g id="k52-4"><use href="#d" x="292"/></g><g id="k52-5"><use href="#b" x="344"/></g><g id="k52-6"><use href="#b" x="396"/></g><g id="k52-7"><use href="#b" x="448"/></g><g id="k52-8"><use href="#b" x="500"/></g><g id="k52-9"><use href="#b" x="552"/></g><g id="k52-10"><use href="#b" x="604"/></g><g id="k52-11"><use href="#b" x="656"/></g><g id="k52-12"><use href="#b" x="708"/></g></g>
<g transform="translate(0,2766)"><g id="k53-0"><use href="#a" x="84"/></g><g id="k53-1"><use href="#a" x="136"/></g><g id="k53-2"><use href="#a" x="188"/></g><g id="k53-3"><use href="#a" x="240"/></g><g id="k53-4"><use href="#c" x="292"/></g><g id="k53-5"><use href="#c" x="344"/></g><g id="k53-6"><use href="#a" x="396"/></g><g id="k53-7"><use href="#a" x="448"/></g><g id="k53-8"><use href="#a" x="500"/></g><g id="k53-9"><use href="#a" x="552"/></g><g id="k53-10"><use href="#a" x="604"/></g><g id="k53-11"><use href="#c" x="656"/></g><g id="k53-12"><use href="#a" x="708"/></g></g>
<g transform="translate(0,2818)"><g id="k54-0"><use href="#b" x="84"/></g><g id="k54-1"><use href="#b" x="136"/></g><g id="k54-2"><use href="#b" x="188"/></g><g id="k54-3"><use href="#b" x="240"/></g><g id="k54-4"><use href="#d" x="292"/></g><g id="k54-5"><use href="#d" x="344"/></g><g id="k54-6"><use href="#d" x="396"/></g><g id="k54-7"><use href="#d" x="448"/></g><g id="k54-8"><use href="#d" x="500"/></g><g id="k54-9"><use href="#d" x="552"/></g><g id="k54-10"><use href="#d" x="604"/></g><g id="k54-11"><use href="#b" x="656"/></g><g id="k54-12"><use href="#b" x="708"/></g></g>
<g transform="translate(0,2870)"><g id="k55-0"><use href="#a" x="84"/></g><g id="k55-1"><use href="#a" x="136"/></g><g id="k55-2"><use href="#a" x="188"/></g><g id="k55-3"><use href="#a" x="240"/></g><g id="k55-4"><use href="#a" x="292"/></g><g id="k55-5"><use href="#c" x="344"/></g><g id="k55-6"><use href="#a" x="396"/></g><g id="k55-7"><use href="#c" x="448"/></g><g id="k55-8"><use href="#c" x="500"/></g><g id="k55-9"><use href="#a" x="552"/></g><g id="k55-10"><use href="#a" x="604"/></g><g id="k55-11"><use href="#a" x="656"/></g><g id="k55-12"><use href="#a" x="708"/></g></g>
<g transform="translate(0,2922)"><g id="k56-0"><use href="#b" x="84"/></g><g id="k56-1"><use href="#b" x="136"/></g><g id="k56-2"><use href="#b" x="188"/></g><g id="k56-3"><use href="#b" x="240"/></g><g id="k56-4"><use href="#b" x="292"/></g><g id="k56-5"><use href="#d" x="344"/></g><g id="k56-6"><use href="#b" x="396"/></g><g id="k56-7"><use href="#b" x="448"/></g><g id="k56-8"><use href="#d" x="500"/></g><g id="k56-9"><use href="#b" x="552"/></g><g id="k56-10"><use href="#b" x="604"/></g><g id="k56-11"><use href="#b" x="656"/></g><g id="k56-12"><use href="#b" x="708"/></g></g>
<g transform="translate(0,2974)"><g id="k57-0"><use href="#a" x="84"/></g><g id="k57-1"><use href="#a" x="136"/></g><g id="k57-2"><use href="#a" x="188"/></g><g id="k57-3"><use href="#a" x="240"/></g><g id="k57-4"><use href="#a" x="292"/></g><g id="k57-5"><use href="#a" x="344"/></g><g id="k57-6"><use href="#a" x="396"/></g><g id="k57-7"><use href="#a" x="448"/></g><g id="k57-8"><use href="#c" x="500"/></g><g id="k57-9"><use href="#c" x="552"/></g><g id="k57-10"><use href="#a" x="604"/></g><g id="k57-11"><use href="#a" x="656"/></g><g id="k57-12"><use href="#a" x="708"/></g></g>
<g transform="translate(0,3026)"><g id="k58-0"><use href="#b" x="84"/></g><g id="k58-1"><use href="#b" x="136"/></g><g id="k58-2"><use href="#b" x="188"/></g><g id="k58-3"><use href="#b" x="240"/></g><g id="k58-4"><use href="#b" x="292"/></g><g id="k58-5"><use href="#b" x="344"/></g><g id="k58-6"><use href="#b" x="396"/></g><g id="k58-7"><use href="#b" x="448"/></g><g id="k58-8"><use href="#b" x="500"/></g><g id="k58-9"><use href="#b" x="552"/></g><g id="k58-10"><use href="#b" x="604"/></g><g id="k58-11"><use href="#b" x="656"/></g><g id="k58-12"><use href="#b" x="708"/></g></g>
<g transform="translate(0,3078)"><g id="k59-0"><use href="#a" x="84"/></g><g id="k59-1"><use href="#a" x="136"/></g><g id="k59-2"><use href="#a" x="188"/></g><g id="k59-3"><use href="#a" x="240"/></g><g id="k59-4"><use href="#a" x="292"/></g><g id="k59-5"><use href="#a" x="344"/></g><g id="k59-6"><use href="#a" x="396"/></g><g id="k59-7"><use href="#a" x="448"/></g><g id="k59-8"><use href="#a" x="500"/></g><g id="k59-9"><use href="#a" x="552"/></g><g id="k59-10"><use href="#a" x="604"/></g><g id="k59-11"><use href="#a" x="656"/></g><g id="k59-12"><use href="#a" x="708"/></g></g>
</g>
<g id="rowlines">
<path class="ln" d="M26 114H66M26 218H66M26 270H66M26 322H66M26 374H66M26 426H66M26 478H66M26 530H66M26 582H66M26 634H66M26 686H66M26 738H66M26 790H66M26 842H66M26 894H66M26 946H66M26 998H66M26 1050H66M26 1102H66M26 1154H66M26 1206H66M26 1258H66M26 1310H66M26 1362H66M26 1414H66M26 1466H66M26 1518H66M26 1570H66M26 1622H66M26 1674H66M26 1726H66M26 1778H66M26 1830H66M26 1882H66M26 1934H66M26 1986H66M26 2038H66M26 2090H66M26 2142H66M26 2194H66M26 2246H66M26 2298H66M26 2350H66M26 2402H66M26 2454H66M26 2506H66M26 2558H66M26 2610H66M26 2662H66M26 2714H66M26 2766H66M26 2818H66M26 2870H66M26 2922H66M26 2974H66M26 3026H66M26 3078H66"/>
<path class="ln" d="M726 62H765M726 114H765M726 166H765M726 218H765M726 270H765M726 322H765M726 374H765M726 426H765M726 478H765M726 530H765M726 582H765M726 634H765M726 686H765M726 738H765M726 790H765M726 842H765M726 894H765M726 946H765M726 998H765M726 1050H765M726 1102H765M726 1154H765M726 1206H765M726 1258H765M726 1310H765M726 1362H765M726 1414H765M726 1466H765M726 1518H765M726 1570H765M726 1622H765M726 1674H765M726 1726H765M726 1778H765M726 1830H765M726 1882H765M726 1934H765M726 1986H765M726 2038H765M726 2090H765M726 2142H765M726 2194H765M726 2246H765M726 2298H765M726 2350H765M726 2402H765M726 2454H765M726 2506H765M726 2558H765M726 2610H765M726 2662H765M726 2714H765M726 2766H765M726 2818H765M726 2870H765M726 2922H765M726 3026H765"/>
</g>
<g id="labels-left" class="lb" text-anchor="end">
<text x="22" y="66.5">1</text><text x="22" y="118.5">2</text><text x="22" y="170.5">3</text><text x="22" y="222.5">4</text><text x="22" y="274.5">5</text><text x="22" y="326.5">6</text><text x="22" y="378.5">7</text><text x="22" y="430.5">8</text><text x="22" y="482.5">9</text><text x="22" y="534.5">10</text><text x="22" y="586.5">11</text><text x="22" y="638.5">12</text><text x="22" y="690.5">13</text><text x="22" y="742.5">14</text><text x="22" y="794.5">15</text><text x="22" y="846.5">16</text><text x="22" y="898.5">17</text><text x="22" y="950.5">18</text><text x="22" y="1002.5">19</text><text x="22" y="1054.5">20</text><text x="22" y="1106.5">21</text><text x="22" y="1158.5">22</text><text x="22" y="1210.5">23</text><text x="22" y="1262.5">24</text><text x="22" y="1314.5">25</text><text x="22" y="1366.5">26</text><text x="22" y="1418.5">27</text><text x="22" y="1470.5">28</text><text x="22" y="1522.5">29</text><text x="22" y="1574.5">30</text><text x="22" y="1626.5">31</text><text x="22" y="1678.5">32</text><text x="22" y="1730.5">33</text><text x="22" y="1782.5">34</text><text x="22" y="1834.5">35</text><text x="22" y="1886.5">36</text><text x="22" y="1938.5">37</text><text x="22" y="1990.5">38</text><text x="22" y="2042.5">39</text><text x="22" y="2094.5">40</text><text x="22" y="2146.5">41</text><text x="22" y="2198.5">42</text><text x="22" y="2250.5">43</text><text x="22" y="2302.5">44</text><text x="22" y="2354.5">45</text><text x="22" y="2406.5">46</text><text x="22" y="2458.5">47</text><text x="22" y="2510.5">48</text><text x="22" y="2562.5">49</text><text x="22" y="2614.5">50</text><text x="22" y="2666.5">51</text><text x="22" y="2718.5">52</text><text x="22" y="2770.5">53</text><text x="22" y="2822.5">54</text><text x="22" y="2874.5">55</text><text x="22" y="2926.5">56</text><text x="22" y="2978.5">57</text><text x="22" y="3030.5">58</text><text x="22" y="3082.5">59</text>
</g>
<g id="labels-right" class="lb">
<text x="773" y="66.5">1</text><text x="773" y="118.5">2</text><text x="773" y="170.5">3</text><text x="773" y="222.5">4</text><text x="773" y="274.5">5</text><text x="773" y="326.5">6</text><text x="773" y="378.5">7</text><text x="773" y="430.5">8</text><text x="773" y="482.5">9</text><text x="773" y="534.5">10</text><text x="773" y="586.5">11</text><text x="773" y="638.5">12</text><text x="773" y="690.5">13</text><text x="773" y="742.5">14</text><text x="773" y="794.5">15</text><text x="773" y="846.5">16</text><text x="773" y="898.5">17</text><text x="773" y="950.5">18</text><text x="773" y="1002.5">19</text><text x="773" y="1054.5">20</text><text x="773" y="1106.5">21</text><text x="773" y="1158.5">22</text><text x="773" y="1210.5">23</text><text x="773" y="1262.5">24</text><text x="773" y="1314.5">25</text><text x="773" y="1366.5">26</text><text x="773" y="1418.5">27</text><text x="773" y="1470.5">28</text><text x="773" y="1522.5">29</text><text x="773" y="1574.5">30</text><text x="773" y="1626.5">31</text><text x="773" y="1678.5">32</text><text x="773" y="1730.5">33</text><text x="773" y="1782.5">34</text><text x="773" y="1834.5">35</text><text x="773" y="1886.5">36</text><text x="773" y="1938.5">37</text><text x="773" y="1990.5">38</text><text x="773" y="2042.5">39</text><text x="773" y="2094.5">40</text><text x="773" y="2146.5">41</text><text x="773" y="2198.5">42</text><text x="773" y="2250.5">43</text><text x="773" y="2302.5">44</text><text x="773" y="2354.5">45</text><text x="773" y="2406.5">46</text><text x="773" y="2458.5">47</text><text x="773" y="2510.5">48</text><text x="773" y="2562.5">49</text><text x="773" y="2614.5">50</text><text x="773" y="2666.5">51</text><text x="773" y="2718.5">52</text><text x="773" y="2770.5">53</text><text x="773" y="2822.5">54</text><text x="773" y="2874.5">55</text><text x="773" y="2926.5">56</text><text x="773" y="2978.5">57</text><text x="773" y="3030.5">58</text><text x="773" y="3082.5">59</text>
</g>
<text id="watermark" x="398" y="1601" text-anchor="middle" font-family="'Liberation Sans', Arial, sans-serif" font-weight="bold" font-size="15" fill="#333" textLength="155" lengthAdjust="spacingAndGlyphs">BRACELETBOOK.COM</text>
</svg>
